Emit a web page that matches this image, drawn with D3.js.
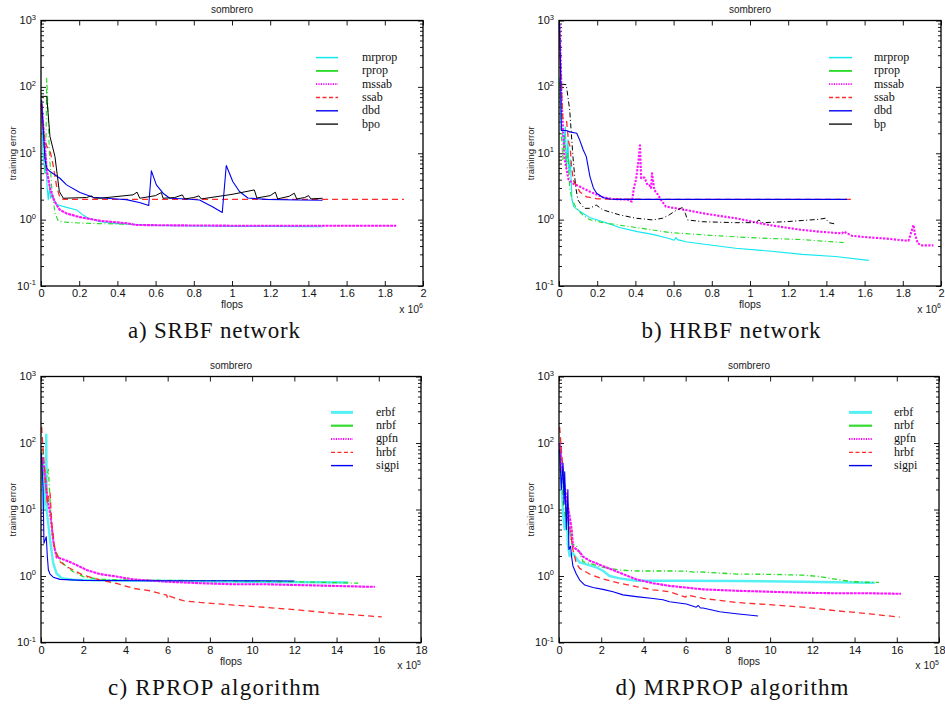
<!DOCTYPE html>
<html>
<head>
<meta charset="utf-8">
<script src="https://cdn.jsdelivr.net/npm/d3@7/dist/d3.min.js"></script>
<style>
  html, body { margin: 0; padding: 0; background: #fff; }
  svg { display: block; }
  .sans { font-family: "Liberation Sans", Arial, Helvetica, sans-serif; }
  .serif { font-family: "Liberation Serif", "Times New Roman", serif; }
</style>
</head>
<body>
<svg id="fig" width="945" height="705"></svg>
<script>
// ---------------------------------------------------------------
// Training error vs. flops on the "sombrero" problem.
// Points are [flops (in units of the axis multiplier), training error].
// ---------------------------------------------------------------

// axis ticks
const wideXTicks = [0, 0.2, 0.4, 0.6, 0.8, 1, 1.2, 1.4, 1.6, 1.8, 2];   // x 10^6
const longXTicks = [0, 2, 4, 6, 8, 10, 12, 14, 16, 18];                // x 10^5
const errorDecades = [0.1, 1, 10, 100, 1000];
const decadeExponents = [-1, 0, 1, 2, 3];

// a) SRBF network, x 10^6 flops
const srbfMrprop = [[0.003,60],[0.01,11],[0.02,5],[0.026,8],[0.032,3.1],[0.038,2.0],[0.045,3.2],[0.05,2.1],[0.06,2.4],[0.07,1.9],[0.08,1.7],[0.091,1.66],[0.134,1.53],[0.187,1.40],[0.22,1.17],[0.248,1.05],[0.31,0.93],[0.4,0.87],[0.48,0.85],[0.6,0.82],[0.8,0.80],[1.0,0.79],[1.2,0.79],[1.474,0.78]];
const srbfRprop = [[0.003,45],[0.012,16],[0.024,5],[0.03,135],[0.035,64],[0.044,10],[0.056,3.1],[0.073,1.25],[0.09,0.96],[0.117,0.92],[0.2,0.89],[0.3,0.87],[0.4,0.86],[0.48,0.85]];
const srbfMssab = [[0.003,55],[0.015,20],[0.03,5.6],[0.047,3.0],[0.064,2.1],[0.082,1.66],[0.099,1.4],[0.134,1.24],[0.204,1.09],[0.31,0.96],[0.45,0.88],[0.5,0.83],[0.7,0.82],[1.0,0.81],[1.4,0.81],[1.86,0.81]];
const srbfSsab = [[0.003,57],[0.012,20],[0.03,12.7],[0.047,11],[0.065,6.3],[0.082,3.15],[0.1,2.1],[0.12,2.02],[0.5,2.02],[1.0,2.02],[1.5,2.02],[1.9,2.02]];
const srbfDbd = [[0.003,64],[0.021,7.95],[0.03,5.95],[0.047,5.3],[0.099,4.2],[0.134,3.34],[0.204,2.56],[0.273,2.17],[0.395,2.05],[0.447,2.0],[0.52,1.8],[0.564,1.63],[0.578,5.43],[0.604,3.34],[0.639,2.5],[0.674,2.1],[0.761,2.05],[0.83,1.98],[0.9,1.55],[0.949,1.28],[0.97,6.53],[1.004,3.75],[1.039,2.65],[1.083,2.12],[1.178,2.02],[1.352,1.98],[1.474,1.96]];
const srbfBpo = [[0.0,72],[0.03,72],[0.047,17.9],[0.073,8.93],[0.096,2.65],[0.117,2.1],[0.238,2.15],[0.265,2.28],[0.275,2.12],[0.308,2.1],[0.482,2.36],[0.503,2.59],[0.517,2.1],[0.6,2.3],[0.63,2.56],[0.639,2.1],[0.7,2.15],[0.74,2.36],[0.752,2.05],[0.8,2.15],[0.827,2.28],[0.839,2.05],[1.0,2.4],[1.117,2.8],[1.13,2.12],[1.2,2.3],[1.227,2.59],[1.239,2.05],[1.3,2.25],[1.326,2.5],[1.339,2.05],[1.38,2.15],[1.401,2.3],[1.413,2.05],[1.474,2.1]];

// b) HRBF network, x 10^6 flops
const hrbfMrprop = [[0.003,140],[0.012,28],[0.026,12.6],[0.033,25],[0.040,6.3],[0.047,16],[0.052,5],[0.059,8],[0.068,2.0],[0.077,1.57],[0.091,1.45],[0.125,1.25],[0.16,1.08],[0.23,0.93],[0.317,0.76],[0.41,0.66],[0.49,0.60],[0.577,0.52],[0.603,0.49],[0.612,0.535],[0.62,0.50],[0.664,0.465],[0.751,0.43],[0.925,0.37],[1.099,0.336],[1.273,0.30],[1.447,0.278],[1.621,0.243]];
const hrbfRprop = [[0.003,120],[0.012,20],[0.02,8],[0.03,18],[0.038,6],[0.047,10],[0.056,3],[0.068,2.0],[0.09,1.5],[0.125,1.17],[0.16,1.0],[0.23,0.9],[0.403,0.76],[0.577,0.64],[0.751,0.59],[0.925,0.55],[1.099,0.52],[1.273,0.50],[1.49,0.45]];
const hrbfMssab = [[0.003,900],[0.008,300],[0.015,50],[0.03,8],[0.05,4],[0.073,3.5],[0.108,3.15],[0.16,2.65],[0.23,2.17],[0.28,2.05],[0.36,2.0],[0.381,1.87],[0.386,2.2],[0.391,2.9],[0.403,4.0],[0.416,7.7],[0.424,13.2],[0.43,4.2],[0.438,4.3],[0.447,4.3],[0.452,4.0],[0.464,3.3],[0.473,3.3],[0.482,3.0],[0.487,5.0],[0.499,2.8],[0.517,2.4],[0.534,1.98],[0.56,1.57],[0.612,1.48],[0.664,1.4],[0.751,1.25],[0.838,1.14],[0.925,1.05],[1.012,0.93],[1.099,0.83],[1.186,0.76],[1.273,0.70],[1.36,0.66],[1.482,0.62],[1.49,0.66],[1.534,0.57],[1.621,0.54],[1.708,0.52],[1.795,0.49],[1.83,0.48],[1.856,0.83],[1.864,0.6],[1.878,0.44],[1.899,0.41],[1.96,0.41]];
const hrbfSsab = [[0.003,640],[0.012,110],[0.02,32],[0.04,30],[0.05,15],[0.058,12.6],[0.066,6.3],[0.075,3.9],[0.11,2.6],[0.145,2.2],[0.2,2.05],[0.5,2.02],[1.0,2.02],[1.534,2.02]];
const hrbfDbd = [[0.003,900],[0.008,200],[0.012,22],[0.038,22],[0.056,21],[0.093,20],[0.108,15.9],[0.127,11.2],[0.143,8.9],[0.162,4.45],[0.18,3.0],[0.197,2.5],[0.23,2.15],[0.264,2.05],[0.3,2.02],[1.0,2.02],[1.508,2.02]];
const hrbfBp = [[0.012,110],[0.038,108],[0.056,45],[0.073,8.9],[0.087,3.15],[0.099,1.98],[0.117,1.66],[0.134,1.48],[0.16,1.48],[0.195,1.66],[0.23,1.4],[0.317,1.18],[0.403,1.05],[0.49,0.99],[0.543,1.05],[0.577,1.18],[0.612,1.37],[0.647,1.53],[0.661,1.25],[0.673,0.99],[0.751,0.93],[0.925,0.9],[1.03,0.9],[1.047,0.99],[1.064,0.9],[1.186,0.93],[1.273,0.97],[1.36,1.01],[1.395,1.05],[1.412,0.9],[1.447,0.86]];

// c) RPROP algorithm, x 10^5 flops
const rpropErbf = [[0.05,60],[0.12,10],[0.18,30],[0.22,12],[0.25,133],[0.27,9.9],[0.43,3.5],[0.58,1.56],[0.74,1.09],[0.98,0.93],[1.5,0.88],[3,0.86],[6,0.84],[10,0.82],[14.55,0.80]];
const rpropNrbf = [[0.03,80],[0.1,40],[0.2,25],[0.35,40],[0.46,8.9],[0.55,3.9],[0.66,2.4],[0.74,2.2],[0.9,1.74],[1.2,1.38],[1.53,1.16],[2.0,0.98],[2.8,0.89],[4,0.87],[8,0.85],[12,0.82],[15.03,0.78]];
const rpropGpfn = [[0.03,60],[0.12,50],[0.2,30],[0.3,15],[0.45,8],[0.6,3],[0.74,1.9],[0.9,1.85],[1.22,1.70],[1.69,1.46],[2.16,1.23],[2.79,1.07],[3.58,0.98],[4.37,0.89],[5.95,0.82],[7.53,0.78],[9.11,0.75],[10.69,0.75],[12.27,0.73],[13.85,0.71],[15.43,0.69],[15.82,0.69]];
const rpropHrbf = [[0.03,174],[0.1,80],[0.2,30],[0.3,12],[0.38,18],[0.43,17.6],[0.51,6.2],[0.66,2.46],[0.9,1.64],[1.22,1.38],[2.0,1.03],[2.79,0.87],[3.58,0.775],[4.37,0.652],[5.16,0.60],[5.95,0.517],[6.0,0.46],[6.05,0.50],[6.74,0.425],[7.53,0.40],[9.11,0.366],[10.69,0.337],[12.27,0.307],[13.85,0.274],[15.43,0.252],[16.14,0.243]];
const rpropSigpi = [[0.02,71],[0.1,20],[0.14,3.1],[0.2,3.5],[0.25,3.9],[0.3,1.96],[0.35,1.23],[0.43,1.07],[0.58,0.96],[0.9,0.89],[2,0.86],[5,0.85],[9,0.85],[12,0.84]];

// d) MRPROP algorithm, x 10^5 flops
const mrpropErbf = [[0.03,80],[0.1,30],[0.2,8],[0.27,5],[0.35,12],[0.42,3],[0.5,2.0],[0.66,2.2],[0.82,1.85],[0.98,1.6],[1.29,1.5],[1.77,1.35],[2.08,1.2],[2.4,1.0],[2.87,0.92],[3.66,0.85],[5.24,0.85],[8.4,0.84],[11.56,0.82],[14.72,0.79],[14.95,0.79]];
const mrpropNrbf = [[0.03,90],[0.1,40],[0.2,12],[0.3,8],[0.4,10],[0.5,5],[0.6,3],[0.82,2.9],[0.9,2.5],[0.98,2.2],[1.14,1.64],[1.45,1.55],[2.08,1.35],[2.87,1.23],[3.66,1.19],[5.24,1.19],[6.0,1.18],[6.4,1.14],[6.5,1.16],[8.4,1.07],[9.98,1.06],[11.56,1.03],[12.35,0.98],[13.14,0.89],[13.93,0.82],[14.72,0.80],[15.16,0.80]];
const mrpropGpfn = [[0.03,100],[0.1,60],[0.2,30],[0.35,15],[0.5,8],[0.6,5],[0.66,2.77],[0.98,2.3],[1.14,1.95],[1.45,1.7],[1.77,1.55],[2.08,1.41],[2.56,1.23],[3.03,1.07],[3.66,0.89],[4.45,0.78],[5.24,0.71],[6.82,0.63],[8.4,0.60],[9.98,0.58],[11.56,0.56],[13.14,0.55],[14.72,0.55],[16.2,0.54]];
const mrpropHrbf = [[0.03,174],[0.11,80],[0.19,40],[0.27,15.7],[0.35,9.9],[0.43,7],[0.5,5.5],[0.66,2.5],[0.82,1.55],[0.98,1.3],[1.45,1.07],[2.08,0.9],[2.87,0.78],[3.66,0.69],[4.45,0.62],[5.24,0.58],[6.0,0.48],[6.06,0.52],[6.82,0.46],[8.4,0.40],[9.98,0.37],[11.56,0.34],[13.14,0.30],[14.72,0.27],[16.14,0.24]];
const mrpropSigpi = [[0.03,80],[0.11,20],[0.19,50],[0.24,12],[0.27,37],[0.35,5],[0.42,20],[0.47,2.5],[0.55,2.8],[0.6,1.9],[0.62,1.74],[0.66,1.41],[0.82,1.07],[0.98,0.87],[1.22,0.73],[1.61,0.67],[2.08,0.63],[2.56,0.58],[3.03,0.52],[3.66,0.49],[4.45,0.46],[4.92,0.44],[5.24,0.41],[6.03,0.38],[6.5,0.34],[6.6,0.36],[6.7,0.33],[6.82,0.33],[7.61,0.29],[8.4,0.27],[9.43,0.25]];

// ---------------------------------------------------------------
// line styles: plot stroke and legend stroke
// ---------------------------------------------------------------
const DASHDOT = "5,2.5,1,2.5";
const STYLES = {
  cyan:      { plot: { c: "#10e8f0", w: 1.1 },                 key: { c: "#10e8f0", w: 1.5 } },
  cyanWide:  { plot: { c: "#55f0f2", w: 2.4 },                 key: { c: "#55f0f2", w: 3 } },
  green:     { plot: { c: "#22dd22", w: 1.1, d: DASHDOT },     key: { c: "#22dd22", w: 1.8 } },
  greenWide: { plot: { c: "#22dd22", w: 1.3, d: DASHDOT },     key: { c: "#33dd33", w: 2.2 } },
  magenta:   { plot: { c: "#ff10ff", w: 2.1, d: "3,0.8" },     key: { c: "#ff00ff", w: 1.8, d: "1.2,1.2" } },
  magentaPts:{ plot: { c: "#ff10ff", w: 2.1, d: "2.2,1.4" },   key: { c: "#ff00ff", w: 1.8, d: "1.2,1.2" } },
  red:       { plot: { c: "#ff2a2a", w: 1.3, d: "6,4" },       key: { c: "#ff2a2a", w: 1.3, d: "4,2.5" } },
  blue:      { plot: { c: "#0000f0", w: 1.1 },                 key: { c: "#0000f0", w: 1.4 } },
  black:     { plot: { c: "#000000", w: 1.0 },                 key: { c: "#000000", w: 1.3 } },
  blackDash: { plot: { c: "#000000", w: 1.0, d: DASHDOT },     key: { c: "#000000", w: 1.3 } }
};

const KEY_STEP = 13.3;

const panels = [
  { box: [41, 423, 20.5, 286], xMax: 2, xTicks: wideXTicks, xExp: 6,
    caption: "a) SRBF network", capX: 214, capY: 338, capLen: 172,
    key: { x1: 316, x2: 338, tx: 362, y0: 57.6 },
    series: [
      { name: "mrprop", data: srbfMrprop, style: "cyan" },
      { name: "rprop",  data: srbfRprop,  style: "green" },
      { name: "mssab",  data: srbfMssab,  style: "magenta" },
      { name: "ssab",   data: srbfSsab,   style: "red" },
      { name: "dbd",    data: srbfDbd,    style: "blue" },
      { name: "bpo",    data: srbfBpo,    style: "black" } ] },
  { box: [559, 941, 20.5, 286], xMax: 2, xTicks: wideXTicks, xExp: 6,
    caption: "b) HRBF network", capX: 731, capY: 338, capLen: 179,
    key: { x1: 829, x2: 852, tx: 874, y0: 57.6 },
    series: [
      { name: "mrprop", data: hrbfMrprop, style: "cyan" },
      { name: "rprop",  data: hrbfRprop,  style: "green" },
      { name: "mssab",  data: hrbfMssab,  style: "magentaPts" },
      { name: "ssab",   data: hrbfSsab,   style: "red" },
      { name: "dbd",    data: hrbfDbd,    style: "blue" },
      { name: "bp",     data: hrbfBp,     style: "blackDash" } ] },
  { box: [41, 421, 376.5, 642.5], xMax: 18, xTicks: longXTicks, xExp: 5,
    caption: "c) RPROP algorithm", capX: 214, capY: 695, capLen: 212,
    key: { x1: 331, x2: 353, tx: 376, y0: 412.4 },
    series: [
      { name: "erbf",  data: rpropErbf,  style: "cyanWide" },
      { name: "nrbf",  data: rpropNrbf,  style: "greenWide" },
      { name: "gpfn",  data: rpropGpfn,  style: "magenta" },
      { name: "hrbf",  data: rpropHrbf,  style: "red" },
      { name: "sigpi", data: rpropSigpi, style: "blue" } ] },
  { box: [559, 939, 376.5, 642.5], xMax: 18, xTicks: longXTicks, xExp: 5,
    caption: "d) MRPROP algorithm", capX: 732, capY: 695, capLen: 233,
    key: { x1: 849, x2: 872, tx: 894, y0: 412.4 },
    series: [
      { name: "erbf",  data: mrpropErbf,  style: "cyanWide" },
      { name: "nrbf",  data: mrpropNrbf,  style: "greenWide" },
      { name: "gpfn",  data: mrpropGpfn,  style: "magenta" },
      { name: "hrbf",  data: mrpropHrbf,  style: "red" },
      { name: "sigpi", data: mrpropSigpi, style: "blue" } ] }
];

const svg = d3.select("#fig");
svg.append("rect").attr("width", 945).attr("height", 705).attr("fill", "#fff");

function applyStroke(sel, s) {
  sel.attr("fill", "none")
     .attr("stroke", s.c)
     .attr("stroke-width", s.w)
     .attr("stroke-dasharray", s.d || null)
     .attr("stroke-linejoin", "round");
}

// superscripted power of ten
function powerLabel(textSel, base, exp, size) {
  textSel.append("tspan").text(base);
  textSel.append("tspan").attr("dy", -4.5).attr("font-size", size).text(exp);
}

panels.forEach(p => {
  const [L, R, T, B] = p.box;
  const x = d3.scaleLinear().domain([0, p.xMax]).range([L, R]);
  const y = d3.scaleLog().domain([0.1, 1000]).range([B, T]);
  const g = svg.append("g");

  // minor log ticks (2..9 within each decade)
  const minor = y.ticks().filter(v => errorDecades.indexOf(+v.toPrecision(6)) < 0);

  const axisStyle = sel => {
    sel.select(".domain").remove();
    sel.selectAll(".tick line").attr("stroke", "#000").attr("stroke-width", 0.9);
  };

  // bottom axis with labels
  const bottom = g.append("g").attr("class", "sans").attr("transform", `translate(0,${B})`)
    .call(d3.axisBottom(x).tickValues(p.xTicks).tickSize(-5).tickPadding(3.5).tickFormat(d => String(d)));
  axisStyle(bottom);
  bottom.selectAll(".tick text").attr("font-size", 11).attr("fill", "#111")
    .attr("font-family", "Liberation Sans, Arial, sans-serif");

  // top axis, ticks only
  const top = g.append("g").attr("transform", `translate(0,${T})`)
    .call(d3.axisTop(x).tickValues(p.xTicks).tickSize(-5).tickFormat(""));
  axisStyle(top);

  // left / right axes: major decades and minor ticks
  [[L, d3.axisLeft], [R, d3.axisRight]].forEach(([pos, maker]) => {
    const maj = g.append("g").attr("transform", `translate(${pos},0)`)
      .call(maker(y).tickValues(errorDecades).tickSize(-5).tickFormat(""));
    axisStyle(maj);
    const mn = g.append("g").attr("transform", `translate(${pos},0)`)
      .call(maker(y).tickValues(minor).tickSize(-3).tickFormat(""));
    axisStyle(mn);
  });

  // decade labels 10^n
  errorDecades.forEach((v, i) => {
    const t = g.append("text").attr("class", "sans")
      .attr("x", L - 5).attr("y", y(v) + 3.6)
      .attr("text-anchor", "end").attr("font-size", 11).attr("fill", "#111");
    powerLabel(t, "10", String(decadeExponents[i]), 7.5);
  });

  // series
  const line = d3.line().x(d => x(d[0])).y(d => y(d[1]));
  const plotArea = g.append("g");
  p.series.forEach(s => {
    plotArea.append("path").datum(s.data).attr("d", line)
      .call(applyStroke, STYLES[s.style].plot);
  });

  // frame
  g.append("rect").attr("x", L).attr("y", T).attr("width", R - L).attr("height", B - T)
    .attr("fill", "none").attr("stroke", "#000").attr("stroke-width", 1.3);

  // title and axis names
  g.append("text").attr("class", "sans").attr("x", (L + R) / 2).attr("y", T - 7.3)
    .attr("text-anchor", "middle").attr("font-size", 10).attr("fill", "#222").text("sombrero");
  g.append("text").attr("class", "sans").attr("x", (L + R) / 2).attr("y", B + 22)
    .attr("text-anchor", "middle").attr("font-size", 10.5).attr("fill", "#222").text("flops");
  const mult = g.append("text").attr("class", "sans").attr("x", R).attr("y", B + 26.5)
    .attr("text-anchor", "end").attr("font-size", 10.5).attr("fill", "#222");
  powerLabel(mult, "x 10", String(p.xExp), 7);
  g.append("text").attr("class", "sans")
    .attr("transform", `translate(${L - 25},${(T + B) / 2}) rotate(-90)`)
    .attr("text-anchor", "middle").attr("font-size", 9.5).attr("fill", "#222").text("training error");

  // legend
  p.series.forEach((s, i) => {
    const ly = p.key.y0 + i * KEY_STEP;
    g.append("line").attr("x1", p.key.x1).attr("x2", p.key.x2).attr("y1", ly).attr("y2", ly)
      .call(applyStroke, STYLES[s.style].key);
    g.append("text").attr("class", "serif").attr("x", p.key.tx).attr("y", ly + 3.4)
      .attr("font-size", 12).attr("fill", "#111").text(s.name);
  });

  // caption
  svg.append("text").attr("class", "serif").attr("x", p.capX).attr("y", p.capY)
    .attr("text-anchor", "middle").attr("font-size", 23).attr("fill", "#111")
    .attr("textLength", p.capLen).attr("lengthAdjust", "spacing").text(p.caption);
});
</script>
</body>
</html>
